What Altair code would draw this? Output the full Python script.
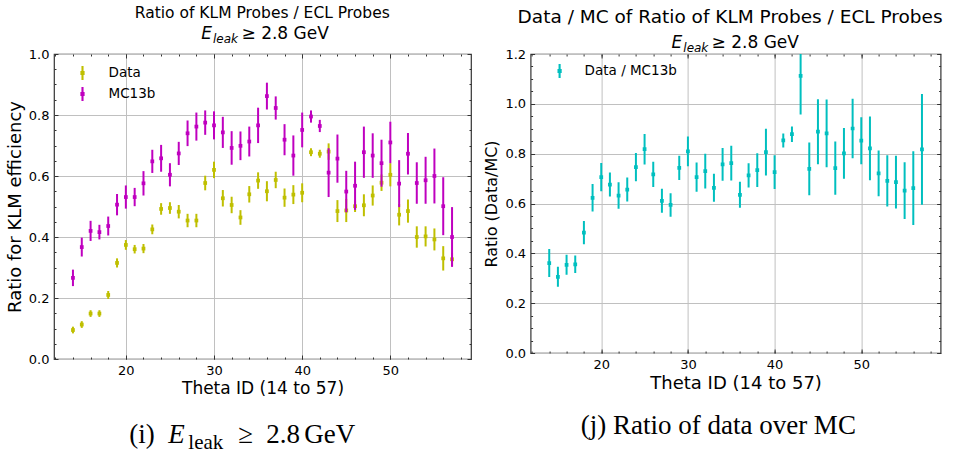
import altair as alt
import pandas as pd

theta = list(range(14, 58))

data_val = [0.095, 0.113, 0.149, 0.149, 0.210, 0.315, 0.374, 0.360, 0.362, 0.425,
            0.492, 0.495, 0.483, 0.454, 0.454, 0.577, 0.620, 0.527, 0.505, 0.464,
            0.540, 0.585, 0.550, 0.587, 0.529, 0.539, 0.545, 0.678, 0.673, 0.680,
            0.485, 0.487, 0.501, 0.504, 0.536, 0.578, 0.604, 0.473, 0.485, 0.400,
            0.402, 0.392, 0.330, 0.327]
data_err = [0.011, 0.011, 0.011, 0.011, 0.013, 0.015, 0.016, 0.014, 0.015, 0.016,
            0.019, 0.019, 0.022, 0.022, 0.022, 0.024, 0.027, 0.027, 0.027, 0.024,
            0.027, 0.027, 0.033, 0.027, 0.030, 0.031, 0.031, 0.013, 0.013, 0.027,
            0.036, 0.038, 0.019, 0.036, 0.033, 0.027, 0.038, 0.035, 0.038, 0.035,
            0.033, 0.036, 0.040, 0.022]

mc_val = [0.266, 0.367, 0.420, 0.416, 0.436, 0.506, 0.531, 0.531, 0.576, 0.648,
          0.658, 0.604, 0.674, 0.740, 0.762, 0.775, 0.766, 0.743, 0.692, 0.699,
          0.713, 0.766, 0.862, 0.823, 0.719, 0.667, 0.751, 0.795, 0.764, 0.611,
          0.657, 0.549, 0.568, 0.678, 0.667, 0.642, 0.710, 0.575, 0.673, 0.577,
          0.586, 0.600, 0.501, 0.400]
mc_err = [0.027, 0.031, 0.033, 0.024, 0.031, 0.035, 0.038, 0.030, 0.040, 0.038,
          0.044, 0.038, 0.038, 0.042, 0.046, 0.040, 0.046, 0.051, 0.055, 0.047,
          0.049, 0.058, 0.044, 0.038, 0.051, 0.066, 0.057, 0.020, 0.020, 0.080,
          0.079, 0.068, 0.079, 0.084, 0.073, 0.077, 0.068, 0.077, 0.068, 0.068,
          0.077, 0.090, 0.095, 0.098]

ratio_val = [0.361, 0.306, 0.354, 0.356, 0.483, 0.623, 0.706, 0.676, 0.632, 0.656,
             0.746, 0.818, 0.717, 0.611, 0.594, 0.743, 0.809, 0.706, 0.730, 0.663,
             0.757, 0.762, 0.635, 0.713, 0.734, 0.806, 0.726, 0.853, 0.878, 1.112,
             0.739, 0.888, 0.881, 0.742, 0.801, 0.901, 0.852, 0.821, 0.721, 0.691,
             0.686, 0.652, 0.662, 0.817]
ratio_err = [0.056, 0.040, 0.040, 0.035, 0.047, 0.055, 0.057, 0.048, 0.053, 0.048,
             0.057, 0.061, 0.051, 0.048, 0.047, 0.049, 0.060, 0.059, 0.070, 0.056,
             0.066, 0.070, 0.052, 0.049, 0.068, 0.094, 0.068, 0.028, 0.031, 0.155,
             0.106, 0.130, 0.136, 0.107, 0.102, 0.119, 0.094, 0.128, 0.092, 0.103,
             0.106, 0.114, 0.148, 0.222]

x_major = [20, 30, 40, 50]
x_minor = list(range(12, 59, 2))

COL_Y = "#bfbf00"
COL_M = "#bf00bf"
COL_C = "#00bfbf"
FRAME = "#333333"
GRID = "#c0c0c0"
SANS = "DejaVu Sans"
SERIF = "Liberation Serif"
ERRBAR_PATH = "M-0.15,-1H0.15V1H-0.15Z M-0.3,-0.3H0.3V0.3H-0.3Z"


def frame(series_list):
    rows = []
    for name, vals, errs in series_list:
        for t, v, e in zip(theta, vals, errs):
            rows.append({"theta": t, "val": v, "lo": v - e, "hi": v + e, "series": name})
    return pd.DataFrame(rows)


def tick_axis(orient, values, size):
    return alt.Axis(orient=orient, values=values, labels=False, domain=False, grid=False,
                    ticks=True, tickSize=size, tickColor=FRAME, tickWidth=1,
                    offset=-size, title=None)


def text_piece(txt, x, y, size, font=SANS, style="normal", align="left", baseline="alphabetic"):
    return alt.Chart(pd.DataFrame({"t": [txt]})).mark_text(
        font=font, fontSize=size, fontStyle=style, align=align, baseline=baseline,
        color="black").encode(x=alt.value(x), y=alt.value(y), text="t:N")


def panel(df, names, colors, ymax, ystep, yminor, w, h, ytitle, legend_xy, label_offset,
          xtitle_size, ytitle_size, ytitle_pad, extra):
    xs = alt.Scale(domain=[11.85, 59.15], nice=False, zero=False)
    ys = alt.Scale(domain=[0, ymax], nice=False, zero=False)
    yvals = [round(i * ystep, 2) for i in range(int(round(ymax / ystep)) + 1)]
    cscale = alt.Scale(domain=names, range=colors)
    legend = alt.Legend(orient="none", legendX=legend_xy[0], legendY=legend_xy[1], title=None,
                        symbolType=ERRBAR_PATH, symbolSize=196, symbolStrokeWidth=0,
                        labelFont=SANS, labelFontSize=13.5, labelColor="black",
                        labelOffset=label_offset, rowPadding=7, padding=0)
    base = alt.Chart(df)
    main_x = alt.Axis(orient="bottom", values=x_major, format="d", grid=True, gridColor=GRID,
                      gridWidth=1, ticks=False, domain=False, labelFont=SANS, labelFontSize=13,
                      labelColor="black", labelPadding=5, titleFont=SANS, titleFontSize=xtitle_size,
                      titleFontWeight="normal", titleColor="black", titlePadding=3)
    main_y = alt.Axis(orient="left", values=yvals, format=".1f", grid=True, gridColor=GRID,
                      gridWidth=1, ticks=False, domain=False, labelFont=SANS, labelFontSize=13,
                      labelColor="black", labelPadding=5, titleFont=SANS, titleFontSize=ytitle_size,
                      titleFontWeight="normal", titleColor="black", titlePadding=ytitle_pad)
    pts = base.mark_square(size=14, opacity=1, clip=True).encode(
        x=alt.X("theta:Q", scale=xs, axis=main_x, title="Theta ID (14 to 57)"),
        y=alt.Y("val:Q", scale=ys, axis=main_y, title=ytitle),
        color=alt.Color("series:N", scale=cscale, legend=legend))
    bars = base.mark_rule(strokeWidth=2, clip=True).encode(
        x=alt.X("theta:Q", scale=xs, axis=tick_axis("bottom", x_major, 4)),
        y=alt.Y("lo:Q", scale=ys, axis=tick_axis("left", yvals, 4)),
        y2="hi:Q",
        color=alt.Color("series:N", scale=cscale, legend=legend))
    t1 = base.mark_point(opacity=0).encode(
        x=alt.X("theta:Q", scale=xs, axis=tick_axis("bottom", x_minor, 2)),
        y=alt.Y("val:Q", scale=ys, axis=tick_axis("left", yminor, 2)))
    t2 = base.mark_point(opacity=0).encode(
        x=alt.X("theta:Q", scale=xs, axis=tick_axis("top", x_major, 4)),
        y=alt.Y("val:Q", scale=ys, axis=tick_axis("right", yvals, 4)))
    t3 = base.mark_point(opacity=0).encode(
        x=alt.X("theta:Q", scale=xs, axis=tick_axis("top", x_minor, 2)),
        y=alt.Y("val:Q", scale=ys, axis=tick_axis("right", yminor, 2)))
    return alt.layer(pts, bars, t1, t2, t3, *extra).resolve_axis(
        x="independent", y="independent").properties(width=w, height=h)


left_df = frame([("Data", data_val, data_err), ("MC13b", mc_val, mc_err)])
right_df = frame([("Data / MC13b", ratio_val, ratio_err)])

left_minor_y = [round(i * 0.05, 2) for i in range(21)]
right_minor_y = [round(i * 0.05, 2) for i in range(25)]

left_text = [
    text_piece("Ratio of KLM Probes / ECL Probes", 208.3, -41, 15.5, align="center", baseline="middle"),
    text_piece("E", 147.3, -15, 17, style="italic"),
    text_piece("leak", 159.0, -11, 12, style="italic"),
    text_piece("\u2265 2.8 GeV", 187.5, -15, 17),
    text_piece("(i)", 75.3, 389, 27, font=SERIF),
    text_piece("E", 114.3, 389, 27, font=SERIF, style="italic"),
    text_piece("leak", 134.3, 395, 21, font=SERIF),
    text_piece("\u2265", 184.3, 389, 27, font=SERIF),
    text_piece("2.8", 212.3, 389, 27, font=SERIF),
    text_piece("GeV", 250.3, 389, 27, font=SERIF),
]
right_text = [
    text_piece("Data / MC of Ratio of KLM Probes / ECL Probes", 199.5, -37, 18.5, align="center", baseline="middle"),
    text_piece("E", 141.0, -6, 17, style="italic"),
    text_piece("leak", 152.7, -2, 12, style="italic"),
    text_piece("\u2265 2.8 GeV", 181.0, -6, 17),
    text_piece("(j) Ratio of data over MC", 187.7, 380, 27, font=SERIF, align="center"),
]

left = panel(left_df, ["Data", "MC13b"], [COL_Y, COL_M], 1.0, 0.2, left_minor_y,
             417, 305, "Ratio for KLM efficiency", (21.5, 12), 19, 17, 18, 4, left_text)
right = panel(right_df, ["Data / MC13b"], [COL_C], 1.2, 0.2, right_minor_y,
              410, 299, "Ratio (Data/MC)", (22, 10), 18, 18, 16, 5, right_text)

chart = alt.hconcat(left, right, spacing=59.6, bounds="flush").resolve_scale(
    color="independent").properties(
    padding={"left": 5, "top": 5, "right": 8, "bottom": 1},
    background="white").configure_view(stroke=FRAME, strokeWidth=1.2)

chart.save("out.html", embed_options={"renderer": "svg", "actions": False})
